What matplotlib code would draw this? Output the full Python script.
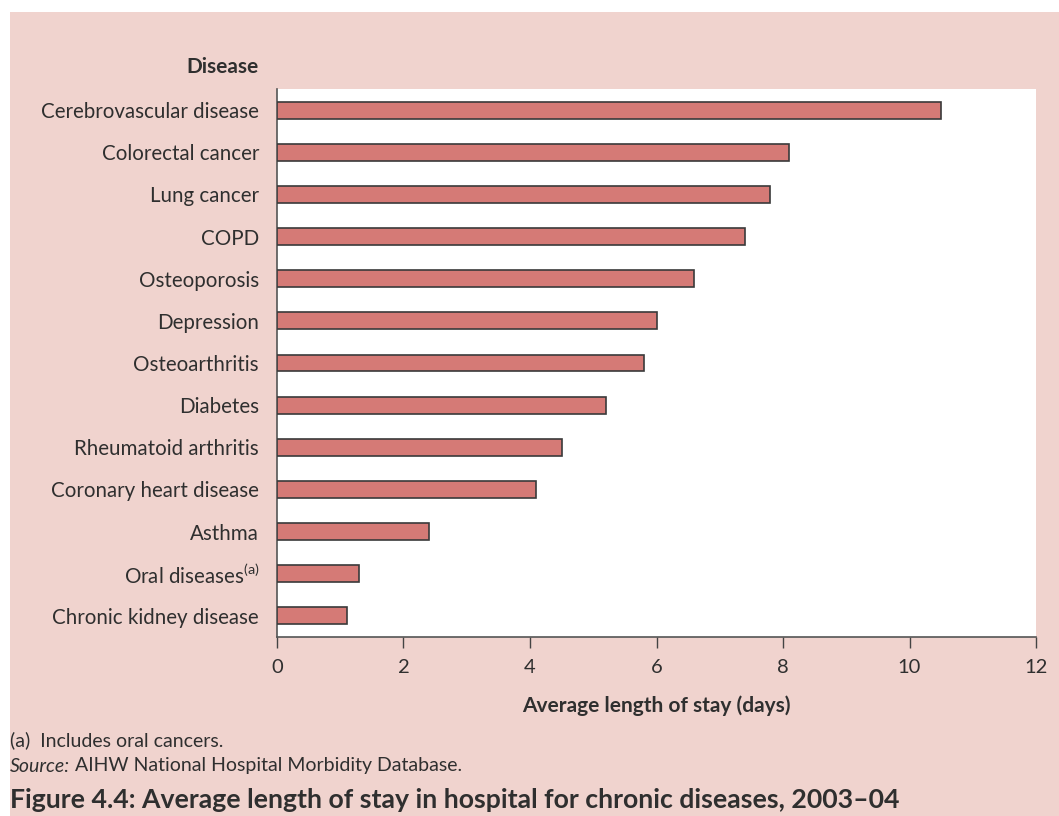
import matplotlib
matplotlib.use("Agg")
import matplotlib.pyplot as plt
from matplotlib.patches import Rectangle

categories = [
    "Cerebrovascular disease",
    "Colorectal cancer",
    "Lung cancer",
    "COPD",
    "Osteoporosis",
    "Depression",
    "Osteoarthritis",
    "Diabetes",
    "Rheumatoid arthritis",
    "Coronary heart disease",
    "Asthma",
    "Oral diseases$^{\\rm (a)}$",
    "Chronic kidney disease",
]
avg_stay_days = [10.5, 8.1, 7.8, 7.4, 6.6, 6.0, 5.8, 5.2, 4.5, 4.1, 2.4, 1.3, 1.1]
x_ticks = [0, 2, 4, 6, 8, 10, 12]

PINK = "#F0D3CE"
BAR = "#D57A76"
TEXT = "#2f2f2f"
FONT = "Lato"

plt.rcParams["mathtext.fontset"] = "custom"
plt.rcParams["mathtext.rm"] = FONT

fig = plt.figure(figsize=(10.59, 8.16), dpi=100)
fig.patch.set_facecolor("white")
# pink panel behind everything
fig.patches.append(Rectangle((10 / 1059, 0), 1 - 10 / 1059, 1 - 12 / 816,
                             transform=fig.transFigure, facecolor=PINK,
                             edgecolor="none", zorder=-10))

ax = fig.add_axes([277 / 1059, 1 - 637 / 816, (1036 - 277) / 1059, (637 - 89) / 816])
ax.set_facecolor("white")

ypos = list(range(len(categories)))
ax.barh(ypos, avg_stay_days, height=0.40, color=BAR, edgecolor="#3a3a3a",
        linewidth=1.2, zorder=3)

ax.set_ylim(12.5, -0.5)
ax.set_xlim(0, 12)
ax.set_yticks(ypos)
ax.set_yticklabels(categories, fontfamily=FONT, fontsize=14.8, color=TEXT)
ax.tick_params(axis="y", length=0, pad=13)
ax.set_xticks(x_ticks)
ax.set_xticklabels([str(t) for t in x_ticks], fontfamily=FONT,
                   fontsize=14.5, color=TEXT)
ax.tick_params(axis="x", length=8, width=1, color="#444444", direction="out", pad=8)

for side in ("top", "right"):
    ax.spines[side].set_visible(False)
for side in ("left", "bottom"):
    ax.spines[side].set_color("#555555")
    ax.spines[side].set_linewidth(1.2)

ax.set_xlabel("Average length of stay (days)", fontfamily=FONT,
              fontweight="bold", fontsize=15, color=TEXT, labelpad=14)

fig.text(259 / 1059, 1 - 67 / 816, "Disease", ha="right", va="center",
         fontfamily=FONT, fontweight="bold", fontsize=15, color=TEXT)

fig.text(10 / 1059, 1 - 740 / 816, "(a)  Includes oral cancers.", ha="left", va="center",
         fontfamily=FONT, fontsize=14, color=TEXT)
src = fig.text(10 / 1059, 1 - 766 / 816, "Source:", ha="left", va="center",
               fontfamily=FONT, fontstyle="italic", fontsize=14, color=TEXT)
renderer = fig.canvas.get_renderer()
src_end = src.get_window_extent(renderer).x1
fig.text(src_end / 1059 + 5 / 1059, 1 - 766 / 816,
         "AIHW National Hospital Morbidity Database.",
         ha="left", va="center", fontfamily=FONT, fontsize=14, color=TEXT)
fig.text(10 / 1059, 1 - 800 / 816,
         "Figure 4.4: Average length of stay in hospital for chronic diseases, 2003\u201304",
         ha="left", va="center", fontfamily=FONT, fontweight="bold",
         fontsize=19.2, color=TEXT)

fig.savefig("out.png", dpi=100, facecolor=fig.get_facecolor())
